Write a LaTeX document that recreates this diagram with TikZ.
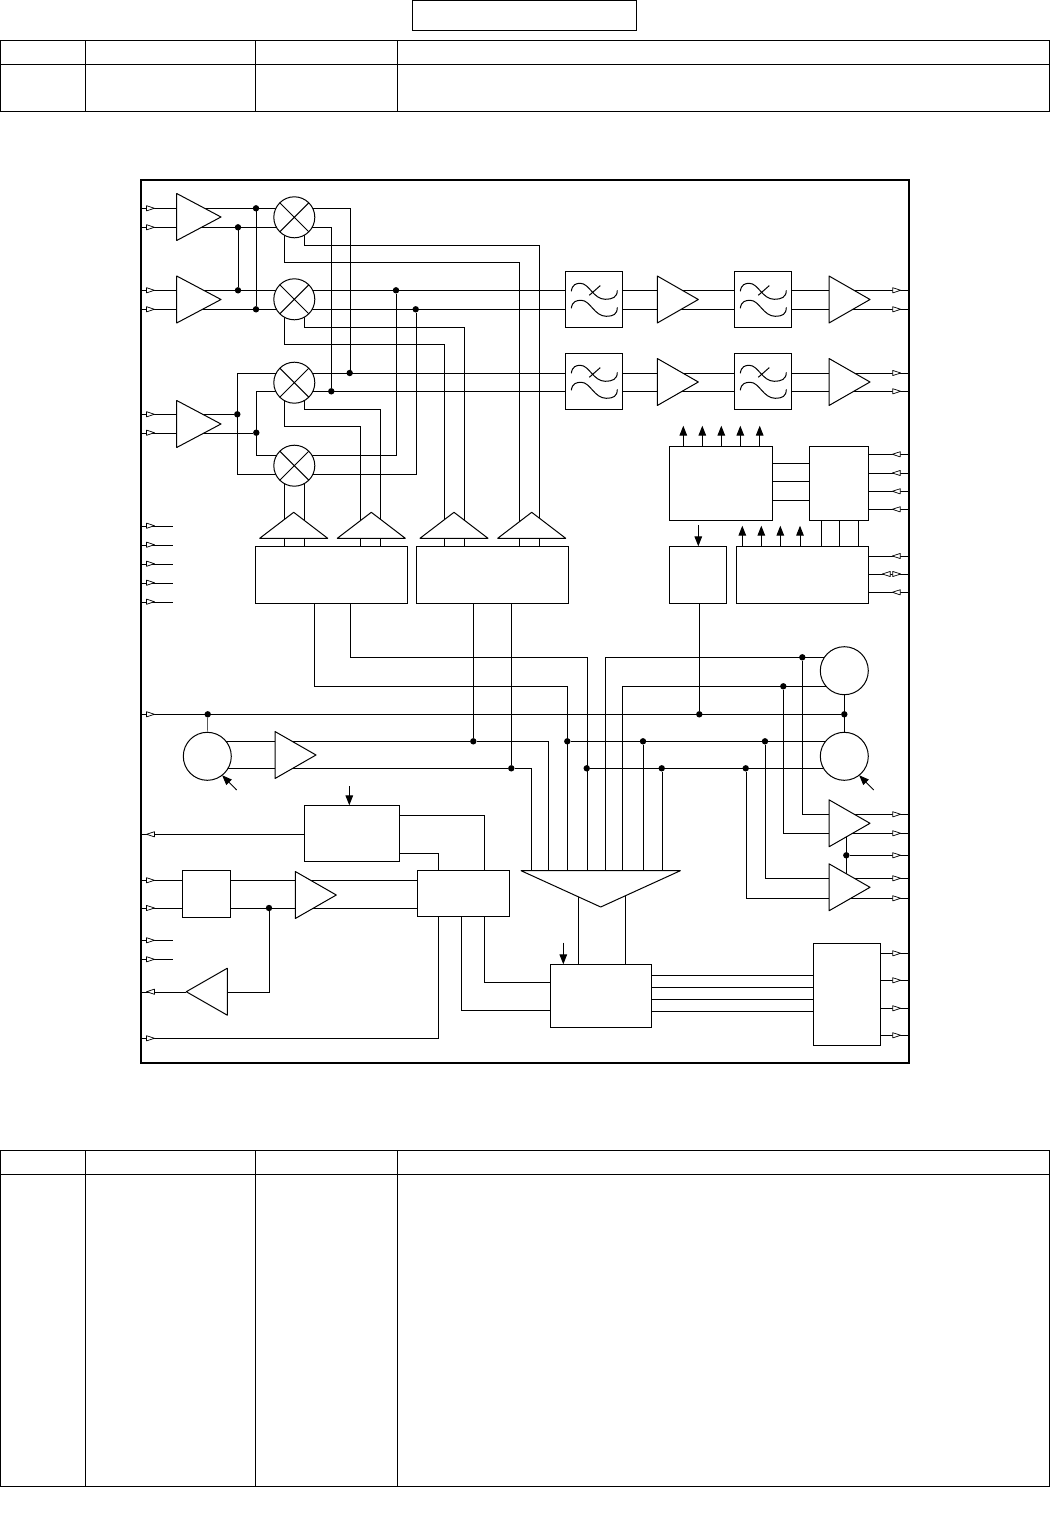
\documentclass[tikz,border=0pt]{standalone}
\usetikzlibrary{arrows.meta,shapes.geometric,backgrounds}
\tikzset{
	blk/.style={draw,fill=white,rectangle,inner sep=0pt,outer sep=0pt},
	amp/.style={draw,fill=white,line join=round,isosceles triangle,isosceles triangle stretches,inner sep=0pt,outer sep=0pt,minimum width=47,minimum height=41},
	ampwide/.style={amp,minimum height=44.3},
	ampsmall/.style={amp,shape border rotate=90,minimum width=68,minimum height=26},
	mix/.style={draw,fill=white,circle,inner sep=0pt,outer sep=0pt,minimum size=41,
		path picture={\draw (path picture bounding box.north west)--(path picture bounding box.south east) (path picture bounding box.north east)--(path picture bounding box.south west);}},
	osc/.style={draw,fill=white,circle,inner sep=0pt,outer sep=0pt,minimum size=48},
	dot/.style={fill=black,circle,inner sep=0pt,outer sep=0pt,minimum size=6.4},
	port/.style={draw,fill=white,line join=round,isosceles triangle,isosceles triangle stretches,inner sep=0pt,outer sep=0pt,minimum width=5.2,minimum height=8,line width=0.7pt},
	portback/.style={port,shape border rotate=180},
	tip/.style={-{Triangle[length=10pt,width=7.6pt]}},
	lowpass/.pic={
		\draw (6,20) .. controls (7,13) and (11,12) .. (15,12) .. controls (24,12) and (28,28) .. (40,28) .. controls (47,28) and (52,26) .. (52,19);
		\draw (6,37) .. controls (7,30) and (11,29) .. (16,29) .. controls (25,29) and (29,45) .. (41,45) .. controls (48,45) and (52,43) .. (52,36);
		\draw (24,24) -- (35,14.3);
	}
}
\begin{document}
\begin{tikzpicture}[x=1pt,y=-1pt,line width=1pt]
	\useasboundingbox (0,0) rectangle (1050,1530);
	% tables
	\node[blk,minimum width=224,minimum height=30] (titlebox) at (524,16) {};
	\draw (0.5,41) rectangle (1049.5,112) (0.5,65) -- (1049.5,65);
	\draw (0.5,1150) rectangle (1049.5,1486) (0.5,1174) -- (1049.5,1174);
	\foreach \x in {85,255,397}{\draw (\x,41) -- (\x,112); \draw (\x,1150) -- (\x,1486);}
	\node[draw,line width=2pt,inner sep=0pt,outer sep=0pt,minimum width=768,minimum height=883] (frame) at (525,621.5) {};
	% blocks
	\foreach \nm/\xa/\ya/\xb/\yb in {blkA/255.3/546.3/407.3/603.3,blkB/416.3/546.3/568.3/603.3,filtA/565.3/271.3/622.7/327.3,filtB/734.3/271.3/791.7/327.3,filtC/565.3/353.3/622.7/409.3,filtD/734.3/353.3/791.7/409.3,ctlP/669.3/446.3/772.7/520.3,ctlQ/809.3/446.3/868.3/520.3,ctlR/669.3/546.3/726.7/603.3,ctlS/736.3/546.3/868.3/603.3,blkT/304.3/805.3/399.3/861.3,blkU/417.3/870.3/509.3/916.3,blkV/182.3/870.3/230.3/917.3,blkY/550.3/964.3/651.3/1027.3,blkZ/813.3/943.3/880.3/1045.3}{
		\node[blk,minimum width={\xb-\xa},minimum height={\yb-\ya}] (\nm) at ({(\xa+\xb)/2},{(\ya+\yb)/2}) {};
	}
	\foreach \nm in {filtA,filtB,filtC,filtD}{\pic at (\nm.north west) {lowpass};}
	% amplifiers
	\foreach \nm/\y in {ampA/217,ampB/299.5,ampC/424}{\node[ampwide,anchor=lower side] (\nm) at (176.7,\y) {};}
	\foreach \nm/\x/\y in {ampD/657.3/299.5,ampE/657.3/382,ampF/829/299.5,ampG/829/382,ampH/275/755,ampJ/295.3/895,ampK/829/823.3,ampL/829/887.3}{\node[amp,anchor=lower side] (\nm) at (\x,\y) {};}
	\node[amp,shape border rotate=180,anchor=lower side] (ampM) at (227.3,991.7) {};
	\foreach \nm/\x in {triA/293.7,triB/371.3,triC/454,triD/531.7}{\node[ampsmall,anchor=lower side] (\nm) at (\x,538.3) {};}
	\node[amp,shape border rotate=-90,minimum width=159.3,minimum height=36.3,anchor=lower side] (mux) at (600.7,870.7) {};
	% mixers and oscillators
	\foreach \nm/\y in {mixA/217.3,mixB/299.3,mixC/382.7,mixD/465.7}{\node[mix] (\nm) at (294.3,\y) {};}
	\node[osc] (oscA) at (207.3,756.3) {};
	\node[osc] (oscB) at (844.3,670.7) {};
	\node[osc] (oscC) at (844.3,756.3) {};
	% junctions
	\foreach \nm/\x/\y in {dA/256/208.3,dB/238/227.3,dC/238/290.3,dD/256/309.3,dE/349.7/373,dF/331.3/391.3,dG/396/290.3,dH/415.7/309.3,dJ/237.3/414.3,dK/256.3/432.7,dL/207.7/714.3,dM/699.3/714.3,dN/844.3/714.3,dP/473.3/741.3,dQ/511.3/768.3,dR/567.3/741.3,dS/586.7/768.3,dT/643/741.3,dU/661.7/768.3,dV/765/741.3,dW/745.7/768.3,dX/802.3/657.3,dY/783.3/686.3,dZ/846.3/855.3,dAa/269/908}{\node[dot] (\nm) at (\x,\y) {};}
	% ports
	\foreach \nm/\y in {pA/208.3,pB/227.3,pC/290.3,pD/309.3,pE/414.3,pF/432.7,sA/525.7,sB/544.7,sC/563.7,sD/582.7,sE/601.7,pG/714.3,pH/880.3,pJ/908,sF/940.3,sG/959.3,pK/1038.3}{\node[port,anchor=lower side] (\nm) at (146.5,\y) {};}
	\foreach \nm/\y in {qA/834.3,qB/991.7}{\node[portback,anchor=apex] (\nm) at (146.5,\y) {};}
	\foreach \nm/\y in {rA/290.3,rB/309.3,rC/373,rD/391.3,rE/574,rF/814.3,rG/833.3,rH/855.3,rJ/878.3,rK/898.3,rL/953.3,rM/980.3,rN/1008.3,rP/1035.3}{\node[port,anchor=lower side] (\nm) at (892.7,\y) {};}
	\foreach \nm/\y in {tA/454.3,tB/473,tC/491.3,tD/509.3,tE/556,tG/592.3}{\node[portback,anchor=apex] (\nm) at (892.3,\y) {};}
	\node[portback,anchor=apex] (tF) at (882.3,574) {};
	% control arrows
	\foreach \i/\x in {1/683.3,2/702.3,3/721.3,4/740.3,5/759.7}{\coordinate (upP\i) at (\x,425.7); \draw[tip] (ctlP.north -| upP\i) -- (upP\i);}
	\foreach \i/\x in {1/742.3,2/761.3,3/780.3,4/800}{\coordinate (upS\i) at (\x,525.7); \draw[tip] (ctlS.north -| upS\i) -- (upS\i);}
	\coordinate (adjR) at (698.3,525); \draw[tip] (adjR) -- (ctlR.north -| adjR);
	\coordinate (adjT) at (349.3,786); \draw[tip] (adjT) -- (blkT.north -| adjT);
	\coordinate (adjY) at (563.3,942.7); \draw[tip] (adjY) -- (blkY.north -| adjY);
	\coordinate (adjA) at (236.7,790); \draw[tip] (adjA) -- (oscA.-52);
	\coordinate (adjC) at (873.7,790); \draw[tip] (adjC) -- (oscC.-52);
	\begin{scope}[on background layer]
		% inputs
		\foreach \p/\b in {pA/ampA,pB/ampA,pC/ampB,pD/ampB,pE/ampC,pF/ampC,pH/blkV,pJ/blkV}{\draw (frame.west |- \p) -- (\b.west |- \p);}
		\foreach \p in {sA,sB,sC,sD,sE,sF,sG}{\draw (frame.west |- \p) -- ++(32,0);}
		% first mixers
		\draw (ampA.lower side |- dA) -- (mixA |- dA);
		\draw (ampA.lower side |- dB) -- (mixA |- dB);
		\draw (ampB.lower side |- dC) -- (mixB |- dC);
		\draw (ampB.lower side |- dD) -- (mixB |- dD);
		\draw (dA) -- (dD);
		\draw (dB) -- (dC);
		\draw (mixA |- dA) -- (dE |- dA) -- (dE);
		\draw (mixA |- dB) -- (dF |- dB) -- (dF);
		\draw (mixB |- dG) -- (filtA.west |- dG);
		\draw (mixB |- dH) -- (filtA.west |- dH);
		\draw (mixC |- dE) -- (filtC.west |- dE);
		\draw (mixC |- dF) -- (filtC.west |- dF);
		\draw (ampC.lower side |- dJ) -- (dJ);
		\draw (ampC.lower side |- dK) -- (dK);
		\draw (mixC |- dE) -- (dJ |- dE) -- (dJ |- 0,474.3) -- (dH |- 0,474.3) -- (dH);
		\draw (mixC |- dF) -- (dK |- dF) -- (dK |- 0,455.3) -- (dG |- 0,455.3) -- (dG);
		% mixer controls
		\draw (mixA.-60) |- (539.3,245.3) -- (blkB.north -| 539.3,0);
		\draw (mixA.-120) |- (518.7,262.3) -- (blkB.north -| 518.7,0);
		\draw (mixB.-60) |- (464.3,327.3) -- (blkB.north -| 464.3,0);
		\draw (mixB.-120) |- (443.7,344.3) -- (blkB.north -| 443.7,0);
		\draw (mixC.-60) |- (380.3,409.3) -- (blkA.north -| 380.3,0);
		\draw (mixC.-120) |- (359.7,426.3) -- (blkA.north -| 359.7,0);
		\draw (mixD.-60) -- (mixD.-60 |- blkA.north);
		\draw (mixD.-120) -- (mixD.-120 |- blkA.north);
		% filter chains
		\foreach \d/\fa/\fb in {dG/filtA/filtB,dH/filtA/filtB,dE/filtC/filtD,dF/filtC/filtD}{
			\draw (\fa.east |- \d) -- (\fb.west |- \d);
			\draw (\fb.east |- \d) -- (frame.east |- \d);
		}
		% control section
		\foreach \y in {463.3,481.3,500.3}{\draw (ctlP.east |- 0,\y) -- (ctlQ.west |- 0,\y);}
		\foreach \x in {821.3,839.3,858.3}{\draw (ctlQ.south -| \x,0) -- (ctlS.north -| \x,0);}
		\foreach \p in {tA,tB,tC,tD}{\draw (ctlQ.east |- \p) -- (frame.east |- \p);}
		\foreach \p in {tE,tF,tG}{\draw (ctlS.east |- \p) -- (frame.east |- \p);}
		% bus to the selector
		\draw (blkA.south -| 314.3,0) |- (dR |- 0,686.3) -- (dR |- mux.lower side);
		\draw (blkA.south -| 350.3,0) |- (dS |- 0,657.3) -- (dS |- mux.lower side);
		\draw (blkB.south -| dP) -- (dP) -- (548.3,741.3) -- (548.3,870.7);
		\draw (blkB.south -| dQ) -- (dQ) -- (531.3,768.3) -- (531.3,870.7);
		\draw (oscA |- dP) -- (dP);
		\draw (oscA |- dQ) -- (dQ);
		\draw (dR) -- (oscC |- dR);
		\draw (dS) -- (oscC |- dS);
		\draw (dT) -- (dT |- mux.lower side);
		\draw (dU) -- (dU |- mux.lower side);
		\draw (oscB |- dX) -- (605.3,657.3) -- (605.3,870.7);
		\draw (oscB |- dY) -- (622.3,686.3) -- (622.3,870.7);
		% reference line
		\draw (frame.west |- pG) -- (dN);
		\draw (oscA) -- (dL);
		\draw (oscB) -- (oscC);
		\draw (ctlR.south -| dM) -- (dM);
		% output amplifiers
		\draw (dX) |- (ampK.lower side |- rF) -- (frame.east |- rF);
		\draw (dY) |- (ampK.lower side |- rG) -- (frame.east |- rG);
		\draw (dV) |- (ampL.lower side |- rJ) -- (frame.east |- rJ);
		\draw (dW) |- (ampL.lower side |- rK) -- (frame.east |- rK);
		\draw (dZ |- ampK.lower side) -- (dZ |- ampL.lower side);
		\draw (dZ) -- (frame.east |- rH);
		% lower left
		\draw (blkT.west |- qA) -- (frame.west |- qA);
		\draw (blkT.east |- 0,815.3) -- (484.3,815.3) -- (blkU.north -| 484.3,0);
		\draw (blkT.east |- 0,853.3) -- (438.3,853.3) -- (blkU.north -| 438.3,0);
		\draw (blkV.east |- pH) -- (blkU.west |- pH);
		\draw (blkV.east |- pJ) -- (blkU.west |- pJ);
		\draw (dAa) |- (ampM.lower side);
		\draw (ampM.apex) -- (frame.west |- qB);
		\draw (frame.west |- pK) -- (438.3,1038.3) -- (blkU.south -| 438.3,0);
		\draw (blkU.south -| 461.3,0) |- (blkY.west |- 0,1010.3);
		\draw (blkU.south -| 484.3,0) |- (blkY.west |- 0,982.3);
		% lower right
		\draw (blkY.north -| 578.3,0) -- (578.3,875);
		\draw (blkY.north -| 625.3,0) -- (625.3,875);
		\foreach \y in {975.3,987.3,999.3,1011.3}{\draw (blkY.east |- 0,\y) -- (blkZ.west |- 0,\y);}
		\foreach \p in {rL,rM,rN,rP}{\draw (blkZ.east |- \p) -- (frame.east |- \p);}
	\end{scope}
\end{tikzpicture}
\end{document}
